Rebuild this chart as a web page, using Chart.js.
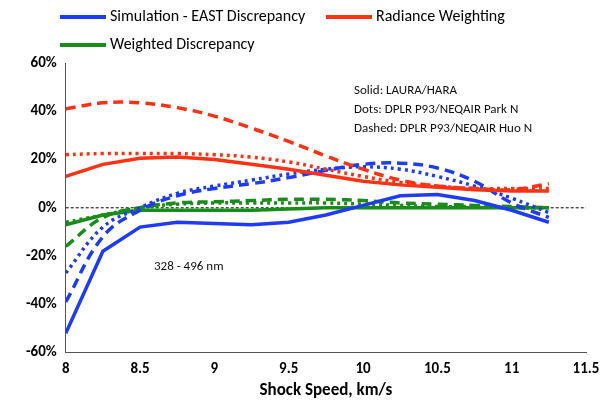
<!DOCTYPE html>
<html>
<head>
<meta charset="utf-8">
<script src="https://cdn.jsdelivr.net/npm/chart.js@4"></script>
<style>
  body { margin: 0; background: #fff; font-family: Calibri, Carlito, "Open Sans", sans-serif; }
  #wrap { position: relative; width: 608px; height: 405px; }
  .lg { position: absolute; font-size: 16px; color: #000; white-space: nowrap; }
  .lg span { display: inline-block; width: 46px; height: 4px; vertical-align: middle; margin-right: 4px; }
  .note { position: absolute; font-size: 13px; color: #111; line-height: 19px; }
</style>
</head>
<body>
<div id="wrap">
  <canvas id="chart" width="608" height="405"></canvas>
  <div class="lg" style="left:60px;top:6px"><span style="background:#1f3cf5"></span>Simulation - EAST Discrepancy</div>
  <div class="lg" style="left:326px;top:6px"><span style="background:#ff3214"></span>Radiance Weighting</div>
  <div class="lg" style="left:60px;top:34px"><span style="background:#1a8c1a"></span>Weighted Discrepancy</div>
  <div class="note" style="left:354px;top:80px">Solid: LAURA/HARA<br>Dots: DPLR P93/NEQAIR Park N<br>Dashed: DPLR P93/NEQAIR Huo N</div>
  <div class="note" style="left:154px;top:256px">328 - 496 nm</div>
</div>
<script>
const speeds = [8, 8.25, 8.5, 8.75, 9, 9.25, 9.5, 9.75, 10, 10.25, 10.5, 10.75, 11, 11.25];
const yTicks = [-60, -40, -20, 0, 20, 40, 60];

const blueSolid  = [-52, -18, -8, -6, -6.5, -7, -6, -3, 1, 5, 5.5, 3, -1, -6];
const blueDash   = [-39, -12, -1, 5, 8, 10, 12.5, 15.5, 18, 18.5, 16.5, 11, 2, -4];
const blueDot    = [-27, -8, 0, 6, 9, 11.5, 14, 16, 17, 16, 13, 9, 4, -2];
const redSolid   = [13, 18, 20.5, 21, 20, 18, 16, 13.5, 11, 9.5, 8.5, 7.5, 7, 7];
const redDash    = [41, 43.5, 43.5, 41.5, 38, 33, 27.5, 21.5, 16, 11.5, 9, 8, 7.5, 10];
const redDot     = [22, 22.5, 22.5, 22.5, 22, 21, 19, 16, 13, 10.5, 9, 8, 8, 8];
const greenSolid = [-7, -3, -1, -1, -1, -1, -0.5, 0, 0, 0, 0, 0, 0, 0];
const greenDash  = [-16, -4, 0, 2, 2.5, 3, 3.5, 3.5, 3, 2, 1.5, 1, 0.5, 0];
const greenDot   = [-6, -3, 0, 1.5, 2, 2, 2, 2, 1.5, 1, 0.5, 0.5, 0, 0];

const BLUE = '#1f3cf5', RED = '#ff3214', GREEN = '#1a8c1a';
const FONT = 'Calibri, Carlito, "Open Sans", sans-serif';

function series(vals, color, style) {
  return {
    data: speeds.map((x, i) => ({ x: x, y: vals[i] })),
    borderColor: color,
    borderWidth: 3.5,
    borderDash: style === 'dash' ? [10, 6] : style === 'dot' ? [3, 4] : [],
    tension: style === 'solid' ? 0 : 0.4,
    pointRadius: 0,
    fill: false
  };
}

const zeroLine = {
  id: 'zeroLine',
  beforeDatasetsDraw(chart) {
    const { ctx, chartArea, scales } = chart;
    const y = scales.y.getPixelForValue(0);
    ctx.save();
    ctx.strokeStyle = '#000';
    ctx.lineWidth = 1;
    ctx.setLineDash([3, 2]);
    ctx.beginPath();
    ctx.moveTo(chartArea.left, y);
    ctx.lineTo(chartArea.right, y);
    ctx.stroke();
    ctx.restore();
  }
};

new Chart(document.getElementById('chart'), {
  type: 'line',
  data: {
    datasets: [
      series(redDash, RED, 'dash'), series(redDot, RED, 'dot'), series(redSolid, RED, 'solid'),
      series(blueDash, BLUE, 'dash'), series(blueDot, BLUE, 'dot'), series(blueSolid, BLUE, 'solid'),
      series(greenDash, GREEN, 'dash'), series(greenDot, GREEN, 'dot'), series(greenSolid, GREEN, 'solid')
    ]
  },
  options: {
    responsive: false,
    animation: false,
    layout: { padding: { top: 63, right: 22, left: 23, bottom: 4 } },
    plugins: { legend: { display: false }, tooltip: { enabled: false } },
    scales: {
      x: {
        type: 'linear', min: 8, max: 11.5,
        grid: { display: false, drawTicks: true, tickLength: 6 },
        border: { color: '#555', width: 1 },
        ticks: { stepSize: 0.5, color: '#000', padding: 2, callback: v => String(v),
                 font: { size: 15, weight: 'bold', family: FONT } },
        title: { display: true, text: 'Shock Speed, km/s', color: '#000', padding: 0,
                 font: { size: 17, weight: 'bold', family: FONT } }
      },
      y: {
        min: -60, max: 60,
        afterBuildTicks(axis) { axis.ticks = yTicks.map(v => ({ value: v })); },
        grid: { display: false, drawTicks: true, tickLength: 6 },
        border: { color: '#555', width: 1 },
        ticks: { color: '#000', callback: v => v + '%',
                 font: { size: 15, weight: 'bold', family: FONT } }
      }
    }
  },
  plugins: [zeroLine]
});
</script>
</body>
</html>
